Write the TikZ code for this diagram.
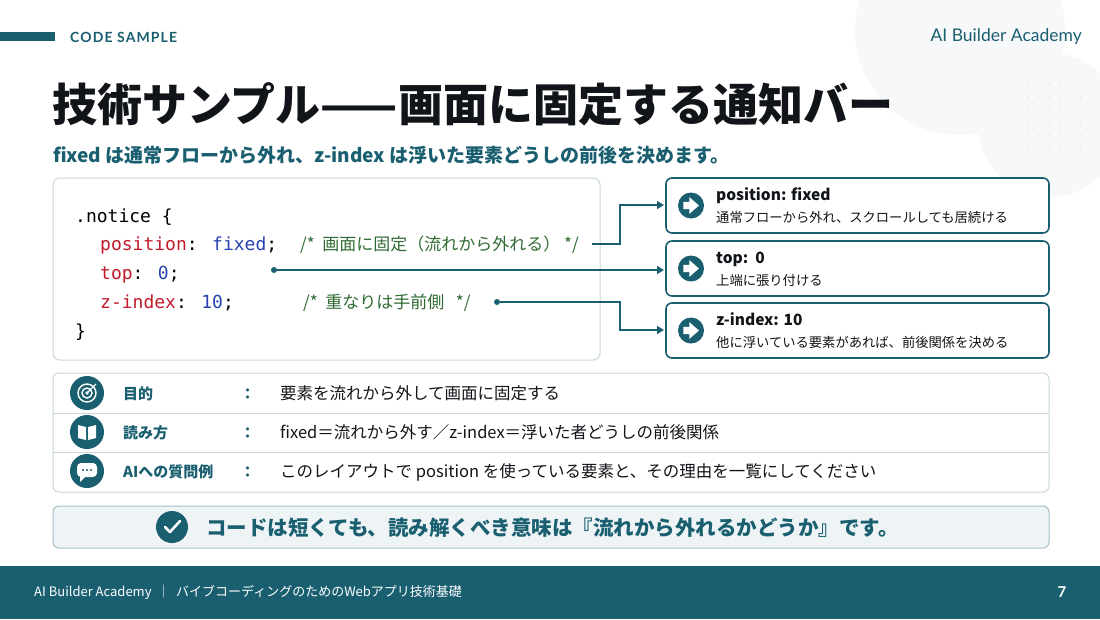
\documentclass[tikz,border=0pt]{standalone}
\usepackage{fontspec}
\setmainfont{Noto Sans CJK JP}
\newfontfamily\jp{Noto Sans CJK JP}
\newfontfamily\lat{Lato}
\newfontfamily\mono{DejaVu Sans Mono}
\usetikzlibrary{arrows.meta}
\definecolor{teal}{HTML}{1A5F70}
\definecolor{ink}{HTML}{111418}
\definecolor{cred}{HTML}{C21A2C}
\definecolor{cblue}{HTML}{2843B0}
\definecolor{cgreen}{HTML}{2F6B32}
\definecolor{lborder}{HTML}{C9D7DD}
\definecolor{lfill}{HTML}{EEF4F6}
\definecolor{deco}{HTML}{F6F8F9}
\tikzset{
 px/.style={x=1pt,y=-1pt},
 card/.style={draw=teal,line width=1.6pt,rounded corners=6pt,fill=white},
 icon/.style={circle,fill=teal,inner sep=0pt,minimum size=#1},
 code/.style={anchor=base west,inner sep=0pt,font=\mono\fontsize{18}{18}\selectfont},
 cmt/.style={anchor=base west,inner sep=0pt,text=cgreen,font=\jp\fontsize{17}{17}\selectfont},
 conn/.style={draw=teal,line width=1.6pt},
 arr/.style={conn,-{Triangle[length=7pt,width=8pt]}},
 dotend/.style={circle,fill=teal,inner sep=0pt,minimum size=6pt},
 ctitle/.style={anchor=base west,inner sep=0pt,font=\jp\bfseries\fontsize{15.5}{15.5}\selectfont,text=ink},
 csub/.style={anchor=base west,inner sep=0pt,font=\jp\fontsize{13.3}{13.3}\selectfont,text=ink},
 rowlab/.style={anchor=base west,inner sep=0pt,font=\jp\bfseries\fontsize{15}{15}\selectfont,text=teal},
 rowtxt/.style={anchor=base west,inner sep=0pt,font=\jp\fontsize{16.5}{16.5}\selectfont,text=ink},
 warrow/.style={white,line width=1.2pt},
}
\begin{document}
\begin{tikzpicture}[px]
\useasboundingbox (0,0) rectangle (1100,619);
\fill[white] (0,0) rectangle (1100,619);
% decoration
\fill[deco] (960,30) circle (105);
\fill[deco] (1050,125) circle (72);
\foreach \i in {0,...,6}{\foreach \j in {0,...,6}{\fill[gray!20] (1028+\i*10.5,72+\j*12.5) circle (0.9);}}
% header
\fill[teal] (0,32) rectangle (55,41);
\node[anchor=base west,inner sep=0pt,text=teal,font=\lat\bfseries\fontsize{14}{14}\addfontfeature{LetterSpace=8}\selectfont] (hdr) at (70,42) {CODE SAMPLE};
\node[anchor=base east,inner sep=0pt,text=teal,font=\lat\fontsize{17.5}{17.5}\selectfont] (brand) at (1082,41) {AI Builder Academy};
\node[anchor=base west,inner sep=0pt,text=ink,font=\jp\bfseries\fontsize{45}{45}\selectfont] (title) at (52,121) {技術サンプル——画面に固定する通知バー};
\node[anchor=base west,inner sep=0pt,text=teal,font=\jp\bfseries\fontsize{19}{19}\selectfont] (sub) at (53,162) {fixed は通常フローから外れ、z-index は浮いた要素どうしの前後を決めます。};
% code box
\draw[lborder,line width=1pt,rounded corners=7pt,fill=white] (53,178) rectangle (600,360);
\node[code] (l1) at (75,222) {.notice \{};
\node[code] (l2) at (100,250) {\textcolor{cred}{position}: \textcolor{cblue}{fixed};};
\node[code] (l3) at (100,279) {\textcolor{cred}{top}: \textcolor{cblue}{0};};
\node[code] (l4) at (100,308) {\textcolor{cred}{z-index}: \textcolor{cblue}{10};};
\node[code] (l5) at (75,337) {\}};
\node[cmt] (c1) at (300,250) {/*\ \ 画面に固定（流れから外れる）\ */};
\node[cmt] (c2) at (303,308) {/*\ \ 重なりは手前側\ \ \ */};
% cards
\foreach \n/\y/\t/\s in {k1/178/position: fixed/通常フローから外れ、スクロールしても居続ける,k2/241/top:\ \ 0/上端に張り付ける,k3/303/z-index: 10/他に浮いている要素があれば、前後関係を決める}{
 \draw[card] (666,\y) rectangle (1049,\y+55);
 \node[icon=26pt] (\n i) at (691,\y+27.5) {};
 \draw[warrow,fill=white] (684,\y+24.5) -- (690,\y+24.5) -- (690,\y+20.5) -- (698,\y+27.5) -- (690,\y+34.5) -- (690,\y+30.5) -- (684,\y+30.5) -- cycle;
 \node[ctitle] at (716,\y+22) {\t};
 \node[csub] at (716,\y+44) {\s};
}
\coordinate (k1w) at (664,205);
\coordinate (k2w) at (664,270);
\coordinate (k3w) at (664,330);
% connectors
\coordinate (c1e) at (592,244);
\draw[arr] (c1e) -- (620,244) -- (620,205) -- (k1w);
\node[dotend] (d2) at (274,270) {};
\draw[arr] (d2) -- (k2w);
\node[dotend] (d3) at (497,302) {};
\draw[arr] (d3) -- (620,302) -- (620,330) -- (k3w);
% info table
\draw[lborder,line width=1pt,rounded corners=6pt,fill=white] (53,373) rectangle (1049,492);
\draw[lborder,line width=1pt] (53,413) -- (1049,413) (53,452) -- (1049,452);
\node[icon=34pt] (i1) at (87,393) {};
\draw[white,line width=1.4pt] (87,393) circle (9) circle (5);
\fill[white] (87,393) circle (1.8);
\draw[white,line width=1.4pt] (87,393) -- (96,384);
\node[icon=34pt] (i2) at (87,432) {};
\fill[white] (78,425) -- (86,427) -- (86,440) -- (78,438) -- cycle (96,425) -- (88,427) -- (88,440) -- (96,438) -- cycle;
\node[icon=34pt] (i3) at (87,471) {};
\fill[white,rounded corners=4pt] (77,463) rectangle (97,477);
\fill[white] (80,476) -- (80,482) -- (86,476) -- cycle;
\foreach \dx in {-4,0,4}\fill[teal] (87+\dx,470) circle (1.1);
\node[rowlab] at (123,399) {目的};
\node[rowlab] at (123,438) {読み方};
\node[rowlab] at (123,477) {AIへの質問例};
\foreach \yy in {399,438,477}\node[rowlab] at (240,\yy) {：};
\node[rowtxt] at (280,399) {要素を流れから外して画面に固定する};
\node[rowtxt] at (280,438) {fixed＝流れから外す／z-index＝浮いた者どうしの前後関係};
\node[rowtxt] at (280,477) {このレイアウトで\ position を使っている要素と、その理由を一覧にしてください};
% conclusion
\draw[lborder!80!teal,line width=1pt,rounded corners=6pt,fill=lfill] (53,506) rectangle (1049,548);
\node[icon=32pt] (ck) at (172,527) {};
\draw[white,line width=2.6pt,line cap=round,line join=round] (165,527) -- (170,532) -- (180,521);
\node[anchor=base west,inner sep=0pt,text=teal,font=\jp\bfseries\fontsize{20.5}{20.5}\selectfont] (concl) at (206,535) {コードは短くても、読み解くべき意味は『流れから外れるかどうか』です。};
% footer
\fill[teal] (0,566) rectangle (1100,619);
\node[anchor=base west,inner sep=0pt,text=white,font=\jp\fontsize{13}{13}\selectfont] (ft) at (34,596) {AI Builder Academy\ \ ｜\ \ バイブコーディングのためのWebアプリ技術基礎};
\node[anchor=base,inner sep=0pt,text=white,font=\lat\bfseries\fontsize{15}{15}\selectfont] (pg) at (1062,597) {7};
\end{tikzpicture}
\end{document}
